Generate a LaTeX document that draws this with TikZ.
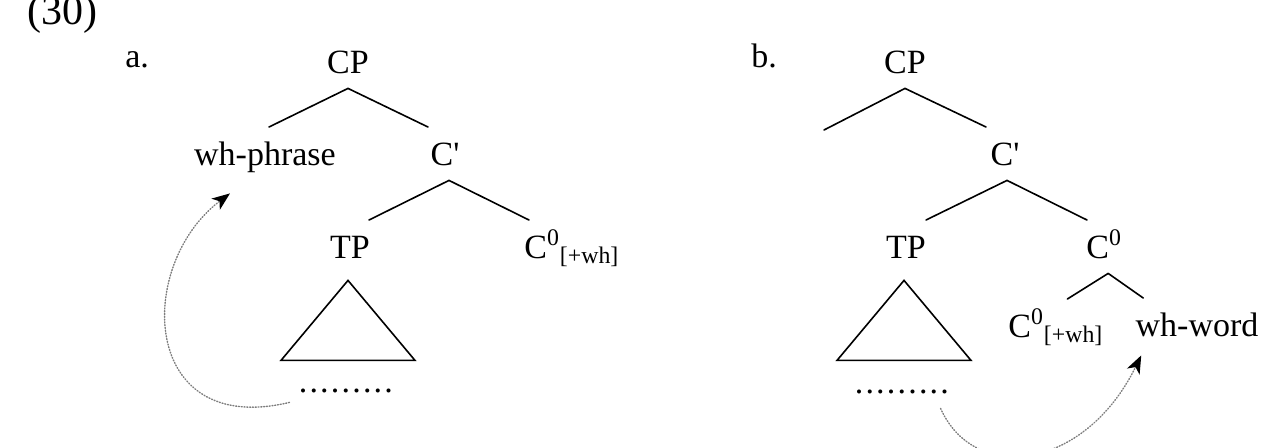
\documentclass[tikz,border=0pt]{standalone}
\usepackage{fontspec}
\setmainfont{Liberation Serif}
\usetikzlibrary{arrows.meta}
\definecolor{movegray}{RGB}{125,125,125}

\tikzset{
  lbl/.style={font=\fontsize{17}{20}\selectfont, anchor=base, inner xsep=0pt, inner ysep=7.5pt, text height=11.3pt, text depth=0pt},
  branch/.style={line width=0.8pt},
  move/.style={movegray, line width=0.7pt, dash pattern=on 0.5pt off 0.9pt, -{Stealth[black, length=9pt, width=7pt, inset=2.5pt]}}
}
\newcommand{\dotrow}{\foreach \n in {1,...,9}{.\kern1.1pt}}

\begin{document}
\begin{tikzpicture}[x=0.5pt, y=-0.5pt, line cap=round]
        \useasboundingbox (0,0) rectangle (1284,447);
        %\draw [step=50, very thin, lightgray] (0,0) grid (1284,447);
        \node [lbl, anchor=base west, font=\fontsize{21}{24}\selectfont] (ex) at (27,24) {(30)};
        % tree a
        \node [lbl, anchor=base west] (a) at (125,67) {a.};
        \node [lbl] (CPa) at (348,73) {CP};
        \node [lbl] (whp) at (265,165) {wh-phrase};
        \node [lbl] (Cbara) at (445,165) {C\textquotesingle};
        \node [lbl] (TPa) at (350,258) {TP};
        \node [lbl, anchor=base west] (C0wa) at (524,258) {C\textsuperscript{0}\textsubscript{[+wh]}};
        \node [lbl] (dotsa) at (347,392) {\dotrow};
        \draw [branch] (CPa.south) -- ([xshift=2pt]whp.north);
        \draw [branch] (CPa.south) -- ([xshift=-8.5pt]Cbara.north);
        \draw [branch] ([xshift=2pt]Cbara.south) -- ([xshift=9.5pt]TPa.north);
        \draw [branch] ([xshift=2pt]Cbara.south) -- ([xshift=2.5pt]C0wa.north west);
        \draw [branch] ([xshift=-1pt, yshift=-3.5pt]TPa.south) -- ++(-67,80) -- ++(134,0) -- cycle;
        \draw [move] ([xshift=-4.5pt, yshift=2.5pt]dotsa.south west) .. controls (140,438) and (135,265) .. ([xshift=-17.5pt, yshift=-6.5pt]whp.south);
        % tree b
        \node [lbl, anchor=base west] (b) at (751,67) {b.};
        \node [lbl] (CPb) at (905,73) {CP};
        \coordinate (specb) at (824,130);
        \node [lbl] (Cbarb) at (1005,165) {C\textquotesingle};
        \node [lbl] (TPb) at (906,258) {TP};
        \node [lbl, anchor=base west] (C0b) at (1086,258) {C\textsuperscript{0}};
        \node [lbl, anchor=base west] (C0wb) at (1008,337) {C\textsuperscript{0}\textsubscript{[+wh]}};
        \node [lbl] (whw) at (1197,336) {wh-word};
        \node [lbl] (dotsb) at (903,393) {\dotrow};
        \draw [branch] (CPb.south) -- (specb);
        \draw [branch] (CPb.south) -- ([xshift=-9.5pt]Cbarb.north);
        \draw [branch] ([xshift=1pt]Cbarb.south) -- ([xshift=10pt]TPb.north);
        \draw [branch] ([xshift=1pt]Cbarb.south) -- ([xshift=0.5pt]C0b.north west);
        \draw [branch] ([xshift=2pt]C0b.south) -- ([xshift=5.75pt]C0wb.north);
        \draw [branch] ([xshift=2pt]C0b.south) -- ([xshift=4pt]whw.north west);
        \draw [branch] ([xshift=-1pt, yshift=-3.5pt]TPb.south) -- ++(-67,80) -- ++(134,0) -- cycle;
        \draw [move] ([xshift=-5.5pt]dotsb.south east) .. controls (975,485) and (1085,470) .. ([xshift=3pt, yshift=-2pt]whw.south west);
\end{tikzpicture}
\end{document}
